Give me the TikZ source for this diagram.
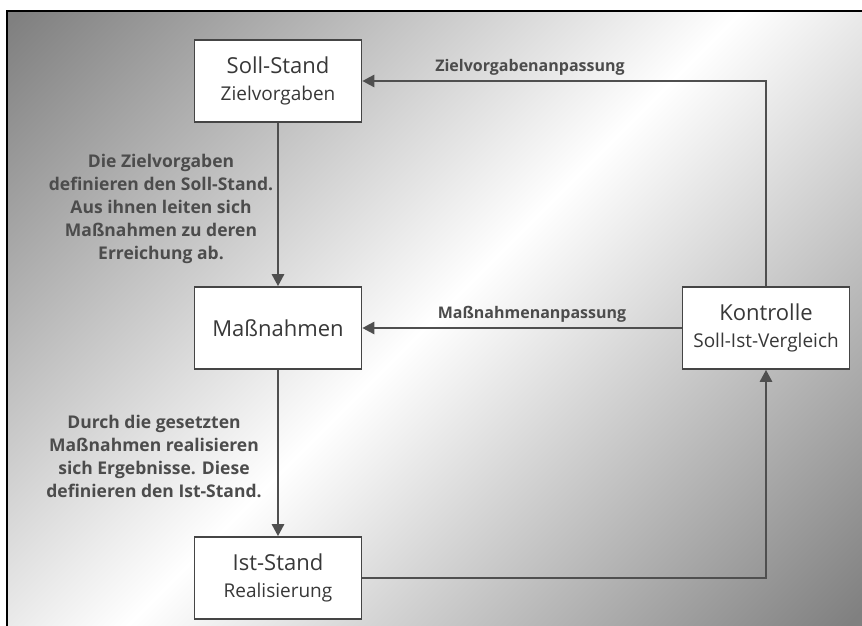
\documentclass[tikz,border=0pt]{standalone}
\usepackage{fontspec}
\setmainfont{Open Sans}
\usetikzlibrary{arrows.meta}

\definecolor{bgcorner}{gray}{0.5}
\definecolor{boxline}{gray}{0.27}
\definecolor{connc}{gray}{0.31}
\definecolor{notec}{gray}{0.30}
\definecolor{boxtext}{gray}{0.22}

% diagonal grey-white-grey background
\pgfdeclarehorizontalshading{diagbg}{100bp}{color(0bp)=(bgcorner); color(15bp)=(bgcorner); color(50bp)=(white); color(85bp)=(bgcorner); color(100bp)=(bgcorner)}

\tikzset{
  stagebox/.style={draw=boxline, line width=1.6pt, fill=white,
    minimum width=167pt, minimum height=82pt, inner sep=0pt,
    align=center, text=boxtext, font=\fontsize{22}{27}\selectfont},
  conn/.style={draw=connc, line width=2.6pt},
  arr/.style={conn, -{Triangle[length=12pt,width=12pt]}},
  note/.style={align=center, text=notec, font=\bfseries\fontsize{17.5}{23}\selectfont},
  edgelabel/.style={text=notec, font=\bfseries\fontsize{16}{19}\selectfont}
}
\newcommand\subline[1]{{\fontsize{19}{22}\selectfont #1}}

\begin{document}
\begin{tikzpicture}[x=1pt, y=-1pt]
  \useasboundingbox (0,0) rectangle (862,626);
  % background panel with its black top and left edges
  \shade[shading=diagbg, shading angle=-45] (7,11) rectangle (862,626);
  \draw[line width=2.2pt] (862,11) -- (7,11) -- (7,626);

  % stages
  \node[stagebox] (soll) at (278,81) {Soll-Stand\\\subline{Zielvorgaben}};
  \node[stagebox] (mass) at (278,328) {Maßnahmen};
  \node[stagebox] (kontr) at (766,328) {Kontrolle\\\subline{Soll-Ist-Vergleich}};
  \node[stagebox] (ist) at (278,578) {Ist-Stand\\\subline{Realisierung}};

  % corner points of the feedback loops
  \coordinate (topright) at (kontr.north |- soll.east);
  \coordinate (botright) at (kontr.south |- ist.east);

  % connectors
  \draw[arr] (soll) -- (mass);
  \draw[arr] (mass) -- (ist);
  \draw[arr] (kontr) -- (mass);
  \draw[arr] (kontr.north) -- (topright) -- (soll.east);
  \draw[arr] (ist.east) -- (botright) -- (kontr.south);

  % connector labels
  \node[edgelabel] (lblziel) at (530,67) {Zielvorgabenanpassung};
  \node[edgelabel] (lblmass) at (532,314) {Maßnahmenanpassung};

  % explanations
  \node[note] (note1) at (161,209) {Die Zielvorgaben\\definieren den Soll-Stand.\\Aus ihnen leiten sich\\Maßnahmen zu deren\\Erreichung ab.};
  \node[note] (note2) at (154,456) {Durch die gesetzten\\Maßnahmen realisieren\\sich Ergebnisse. Diese\\definieren den Ist-Stand.};
\end{tikzpicture}
\end{document}
